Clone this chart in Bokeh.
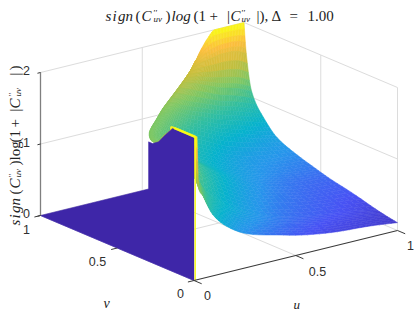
from bokeh.plotting import figure
from bokeh.embed import file_html
from bokeh.resources import INLINE
from bokeh.core.properties import value
import math

# --- data ---
v_rows = [0, .08, .14, .3, .45, .53, .65, .78, .87, .95, .985, 1]
edge_u = [.015, .015, .015, .11, .2, .21, .27, .40, .514, .66, .73, .76]
s_cols = [0, .008, .03, .08, .15, .25, .4, .55, .7, .85, 1]
z_table = [
 [2.00,1.28,1.15,.85,.64,.47,.35,.25,.19,.16,.11],
 [2.00,1.75,1.50,1.15,.85,.62,.45,.33,.25,.20,.14],
 [2.00,1.90,1.70,1.35,1.00,.75,.52,.38,.30,.24,.17],
 [1.75,1.70,1.55,1.35,1.10,.85,.60,.45,.36,.30,.26],
 [1.50,1.48,1.40,1.25,1.10,.90,.68,.52,.42,.36,.33],
 [1.30,1.30,1.27,1.20,1.08,.92,.72,.58,.48,.42,.38],
 [1.25,1.25,1.23,1.18,1.08,.96,.80,.65,.55,.50,.46],
 [1.25,1.25,1.23,1.20,1.13,1.04,.92,.80,.72,.64,.58],
 [1.30,1.30,1.28,1.25,1.20,1.14,1.06,.98,.92,.85,.78],
 [1.45,1.45,1.44,1.42,1.40,1.36,1.30,1.24,1.20,1.15,1.08],
 [1.55,1.56,1.57,1.58,1.60,1.62,1.64,1.66,1.66,1.64,1.58],
 [1.62,1.63,1.65,1.72,1.80,1.90,2.00,2.00,2.00,2.00,2.00],
]
wall_v = [0, 1, .296, .296, .27, .231, .186, .14, 0]
wall_z = [0, 0, 1.01, 1.67, 1.67, 1.73, 1.87, 2, 2]
u_ticks = [0, .5, 1]
v_ticks = [0, .5, 1]
z_ticks = [0, 1, 2]

parula = [(0,62,38,168),(.125,72,82,244),(.25,39,150,235),(.375,6,178,205),
          (.5,50,190,160),(.625,125,199,100),(.75,200,190,60),(.875,252,190,60),(1,249,251,21)]

def color(z):
    t = max(0, min(1, z / 2))
    for a, b in zip(parula, parula[1:]):
        if t <= b[0]:
            f = (t - a[0]) / (b[0] - a[0])
            return "#%02x%02x%02x" % tuple(round(a[i] + f * (b[i] - a[i])) for i in (1, 2, 3))
    return "#f9fb15"

def X(u, v, z=0):
    return 193.5 + 203.5 * u - 153.5 * v

def Y(u, v, z=0):
    return 280 - 50 * u - 65 * v - 71.5 * z

def pchip(xs, ys, q):
    """Shape-preserving drawing of a read column between its read values."""
    n = len(xs)
    h = [xs[i + 1] - xs[i] for i in range(n - 1)]
    d = [(ys[i + 1] - ys[i]) / h[i] for i in range(n - 1)]
    m = [d[0]] + [0.0] * (n - 2) + [d[-1]]
    for i in range(1, n - 1):
        if d[i - 1] * d[i] > 0:
            w1 = 2 * h[i] + h[i - 1]
            w2 = h[i] + 2 * h[i - 1]
            m[i] = (w1 + w2) / (w1 / d[i - 1] + w2 / d[i])
    out = []
    for t in q:
        k = 0
        while k < n - 2 and t > xs[k + 1]:
            k += 1
        f = (t - xs[k]) / h[k]
        out.append((2*f**3 - 3*f**2 + 1) * ys[k] + (f**3 - 2*f**2 + f) * h[k] * m[k]
                   + (-2*f**3 + 3*f**2) * ys[k + 1] + (f**3 - f**2) * h[k] * m[k + 1])
    return out

p = figure(width=415, height=312, x_range=(0, 415), y_range=(312, 0),
           x_axis_location=None, y_axis_location=None, toolbar_location=None,
           output_backend="svg", min_border=0, outline_line_color=None)
p.grid.visible = False

def seg(a, b, c="#dcdcdc", w=1.0):
    p.line([X(*a), X(*b)], [Y(*a), Y(*b)], line_color=c, line_width=w)

# box grid
for z in z_ticks:
    seg((0, 1, z), (1, 1, z))
    seg((1, 1, z), (1, 0, z))
for t in (.5,):
    seg((t, 1, 0), (t, 1, 2))
    seg((1, t, 0), (1, t, 2))
    seg((t, 0, 0), (t, 1, 0))
    seg((0, t, 0), (1, t, 0))
seg((1, 1, 0), (1, 1, 2))
seg((1, 0, 0), (1, 0, 2))
seg((0, 1, 0), (0, 1, 2))

# surface, far quads first
fine_v = sorted(set(v_rows + [a + (b - a) * k / 5 for a, b in zip(v_rows, v_rows[1:]) for k in range(5)]))
fine_s = sorted(set(s_cols + [a + (b - a) * k / 5 for a, b in zip(s_cols, s_cols[1:]) for k in range(5)]))
fine_e = pchip(v_rows, edge_u, fine_v)
by_s = [pchip(v_rows, [row[j] for row in z_table], fine_v) for j in range(len(s_cols))]
grid = [pchip(s_cols, [col[i] for col in by_s], fine_s) for i in range(len(fine_v))]
cells = []
for i in range(len(fine_v) - 1):
    for j in range(len(fine_s) - 1):
        pts = []
        for a, b in ((i, j), (i + 1, j), (i + 1, j + 1), (i, j + 1)):
            u = fine_e[a] + fine_s[b] * (1 - fine_e[a])
            pts.append((u, fine_v[a], min(2, grid[a][b])))
        depth = sum(50 * q[0] + 65 * q[1] for q in pts) / 4
        cells.append((depth, pts, sum(q[2] for q in pts) / 4))
cells.sort(key=lambda c: -c[0])
cols = [color(c[2]) for c in cells]
p.patches([[X(*q) for q in c[1]] for c in cells], [[Y(*q) for q in c[1]] for c in cells],
          fill_color=cols, line_color=cols, line_width=0.5)

# wall at u = 0
p.patch([X(0, a, b) for a, b in zip(wall_v, wall_z)], [Y(0, a, b) for a, b in zip(wall_v, wall_z)],
        fill_color="#3e26a8", line_color="#3e26a8", line_width=0.5)
p.line([X(.006, 0, 0), X(.006, 0, 2)], [Y(.006, 0, 0), Y(.006, 0, 2)],
       line_color="#f9fb15", line_width=1.4)
p.line([X(.008, 0, 2), X(.008, .14, 2)], [Y(.008, 0, 2), Y(.008, .14, 2)],
       line_color="#f9fb15", line_width=2.4)

# axes
AX = "#3a3a3a"
seg((0, 1, 0), (0, 1, 2), "#7f7f7f", 1.3)
seg((0, 0, 0), (1, 0, 0), AX, 1.1)
seg((0, 0, 0), (0, 1, 0), "#3e26a8", 0.6)
for t in u_ticks:
    seg((t, 0, 0), (t, -.05, 0), AX, 1.0)
for t in v_ticks:
    seg((0, t, 0), (-.03, t, 0), AX, 1.0)
for t in z_ticks:
    seg((0, 1, t), (-.015, 1, t), AX, 1.0)

TXT = "#303030"
FONT = value("Liberation Sans")
def lab(x, y, s):
    p.text([x], [y], text=[s], text_font=FONT, text_font_size="12.5px", text_color=TXT,
           text_align="center", text_baseline="middle")
lab(26, 70, "2"); lab(26, 142, "1"); lab(26, 213, "0")
lab(26, 229, "1"); lab(97, 261, "0.5"); lab(180, 293, "0")
lab(207, 295, "0"); lab(317, 271, "0.5"); lab(410, 245, "1")

SERIF = value("Liberation Serif")
def run(x, y, s, size=15, style="normal", angle=0):
    p.text([x], [y], text=[s], text_font=SERIF, text_font_size=f"{size}px", text_color="#222222",
           text_font_style=style, text_align="left", text_baseline="alphabetic", angle=angle)

# title
base = 15
for x, dy, s, sz, st in [
    (105, 0, "s", 15, "italic"), (112, 0, "i", 15, "italic"), (117.5, 0, "g", 15, "italic"), (125, 0, "n", 15, "italic"),
    (135, 0, "(", 15, "normal"), (141, 0, "C", 15, "italic"), (153, -3, "\u2032\u2032", 9, "normal"),
    (153, 3, "uv", 9, "italic"), (165, 0, ")", 15, "normal"), (171, 0, "log", 15, "italic"),
    (193, 0, "(1", 15, "normal"), (209, 0, "+", 15, "normal"), (226.5, 0, "|", 15, "normal"), (230, 0, "C", 15, "italic"),
    (241, -3, "\u2032\u2032", 9, "normal"), (241, 3, "uv", 9, "italic"), (256, 0, "|),", 15, "normal"),
    (271, 0, "\u0394", 15, "normal"), (289, 0, "=", 15, "normal"), (307, 0, "1.00", 15, "normal")]:
    run(x, base + dy, s, sz, st)

# y label
bx = 14
for y, dx, s, sz, st in [
    (225, 0, "s", 15, "italic"), (218, 0, "i", 15, "italic"), (212.5, 0, "g", 15, "italic"), (205, 0, "n", 15, "italic"),
    (194, 0, "(", 15, "normal"), (188, 0, "C", 15, "italic"), (177, -3, "\u2032\u2032", 9, "normal"),
    (177, 3, "uv", 9, "italic"), (165, 0, ")", 15, "normal"), (160, 0, "log", 15, "normal"),
    (142, 0, "(1", 15, "normal"), (127, 0, "+", 15, "normal"), (111, 0, "|", 15, "normal"), (108, 0, "C", 15, "italic"),
    (96, -3, "\u2032\u2032", 9, "normal"), (96, 3, "uv", 9, "italic"), (75, 0, "|", 15, "normal"), (70, 0, ")", 15, "normal")]:
    run(bx + dx, y, s, sz, st, angle=math.pi / 2)

run(103, 303, "v", 14, "italic")
run(293, 304, "u", 13, "italic")

open("out.html", "w").write(file_html(p, INLINE))
